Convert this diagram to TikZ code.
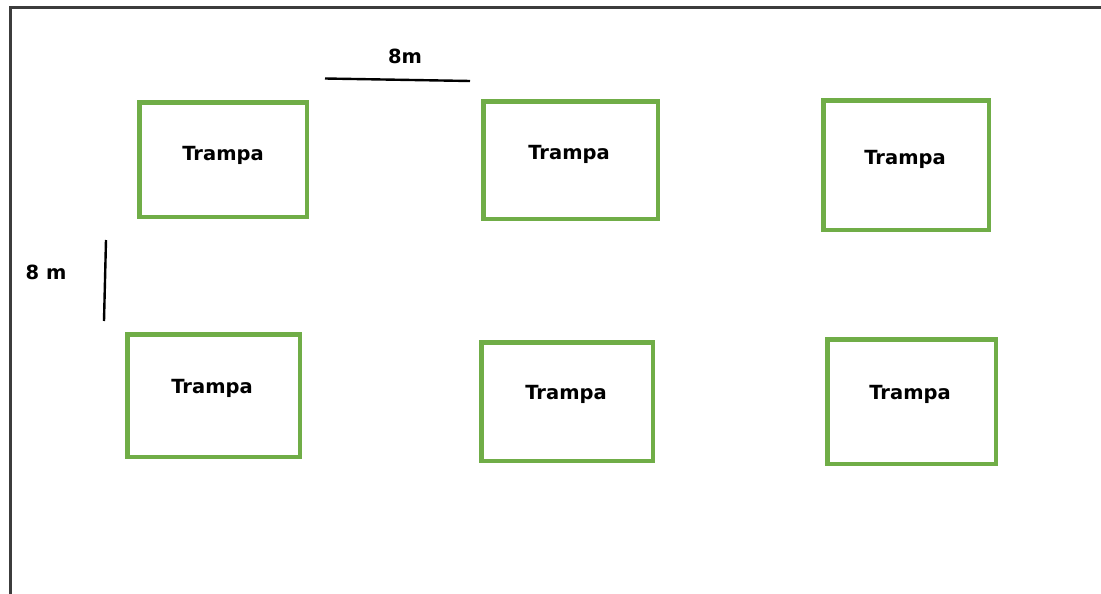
\documentclass[tikz,border=0pt]{standalone}
\usepackage{fontspec}
\setmainfont{DejaVu Sans}
\definecolor{trapgreen}{RGB}{112,173,71}
\definecolor{framegray}{RGB}{60,60,60}
\tikzset{
  trapbox/.style={draw=trapgreen, line width=4.5pt, inner sep=0pt},
  traplabel/.style={font=\bfseries\fontsize{19.5}{21}\selectfont, inner sep=0pt},
  scaleline/.style={draw=black, line width=2.4pt},
  dimlabel/.style={font=\bfseries\fontsize{19.5}{21}\selectfont, inner sep=0pt},
}
\begin{document}
\begin{tikzpicture}[x=1pt,y=-1pt]
\useasboundingbox (0,0) rectangle (1101,594);
% frame
\coordinate (fbl) at (10.5,594);
\coordinate (ftl) at (10.5,7.5);
\coordinate (ftr) at (1101,7.5);
\draw[framegray, line width=2.2pt] (fbl) -- (ftl) -- (ftr);
% traps
\node[trapbox, minimum width=167.5pt, minimum height=114.5pt] (b1) at (223,159.5) {};
\node[trapbox, minimum width=174.5pt, minimum height=117.5pt] (b2) at (570.5,160) {};
\node[trapbox, minimum width=165.5pt, minimum height=129.5pt] (b3) at (906,165) {};
\node[trapbox, minimum width=172.5pt, minimum height=122.5pt] (b4) at (213.5,395.5) {};
\node[trapbox, minimum width=171.5pt, minimum height=118.5pt] (b5) at (567,401.5) {};
\node[trapbox, minimum width=168.5pt, minimum height=124.5pt] (b6) at (911.5,401.5) {};
\node[traplabel] (l1) at (223,155) {Trampa};
\node[traplabel] (l2) at (569,154) {Trampa};
\node[traplabel] (l3) at (905,159) {Trampa};
\node[traplabel] (l4) at (212,388) {Trampa};
\node[traplabel] (l5) at (566,394) {Trampa};
\node[traplabel] (l6) at (910,394) {Trampa};
% scale lines
\coordinate (h1) at (325,78.5);
\coordinate (h2) at (470,81);
\draw[scaleline] (h1) -- (h2);
\node[dimlabel] (hl) at (405,56) {8m};
\coordinate (v1) at (106,240);
\coordinate (v2) at (104,321);
\draw[scaleline] (v1) -- (v2);
\node[dimlabel] (vl) at (46,272) {8 m};
\end{tikzpicture}
\end{document}
